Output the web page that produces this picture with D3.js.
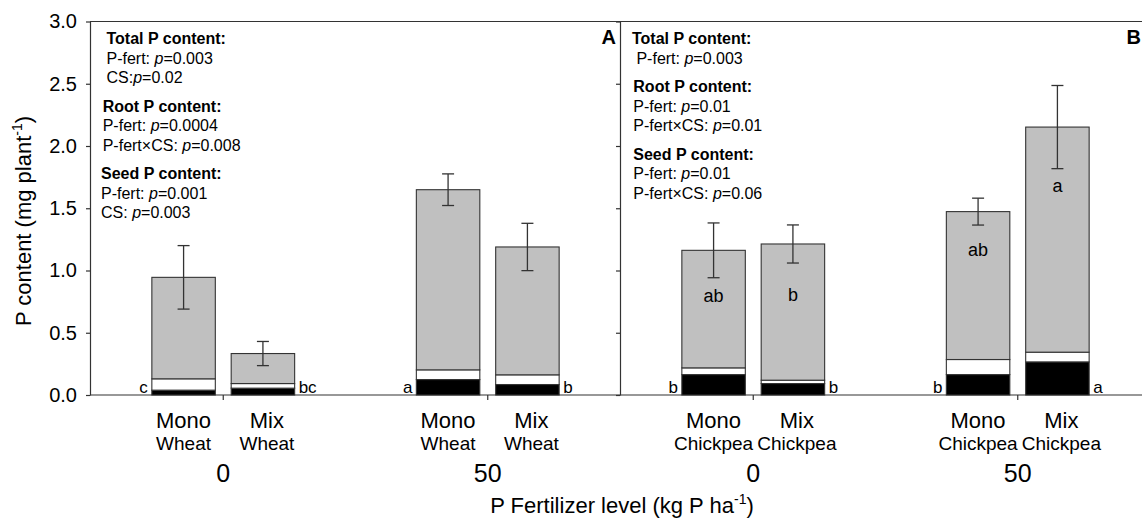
<!DOCTYPE html>
<html>
<head>
<meta charset="utf-8">
<script src="https://cdn.jsdelivr.net/npm/d3@7"></script>
<style>
  body { margin: 0; background: #fff; }
  svg { display: block; font-family: "Liberation Sans", Arial, Helvetica, sans-serif; }
</style>
</head>
<body>
<svg id="chart" width="1142" height="520"></svg>
<script>
// Treatments: panel (crop), P fertilizer level, cropping system
const panels = ["A", "B"];
const crops = ["Wheat", "Chickpea"];
const levels = ["0", "50"];
const systems = ["Mono", "Mix"];

// P content (mg plant-1), bars ordered A-0-Mono, A-0-Mix, A-50-Mono, A-50-Mix, B-0-Mono, B-0-Mix, B-50-Mono, B-50-Mix
const rootP  = [0.039, 0.055, 0.124, 0.084, 0.164, 0.092, 0.164, 0.266];
const seedP  = [0.091, 0.037, 0.078, 0.078, 0.054, 0.027, 0.121, 0.078];
const shootP = [0.815, 0.241, 1.447, 1.027, 0.944, 1.094, 1.188, 1.808];
const totalSE = [0.255, 0.097, 0.127, 0.190, 0.220, 0.153, 0.108, 0.334];

// Mean separation letters
const rootLetters  = ["c", "bc", "a", "b", "b", "b", "b", "a"];
const totalLetters = ["", "", "", "", "ab", "b", "ab", "a"];
const totalLetterAt = [null, null, null, null, 0.750, 0.758, 1.119, 1.628];

const yTicks = [0, 0.5, 1.0, 1.5, 2.0, 2.5, 3.0];

// ANOVA summaries per panel: [prefix, p value]
const statsA = [
  { title: "Total P content:", lines: [["P-fert: ", "0.003"], ["CS:", "0.02"]] },
  { title: "Root P content:",  lines: [["P-fert: ", "0.0004"], ["P-fert\u00d7CS: ", "0.008"]] },
  { title: "Seed P content:",  lines: [["P-fert: ", "0.001"], ["CS: ", "0.003"]] }
];
const statsB = [
  { title: "Total P content:", lines: [[" P-fert: ", "0.003"]] },
  { title: "Root P content:",  lines: [["P-fert: ", "0.01"], ["P-fert\u00d7CS: ", "0.01"]] },
  { title: "Seed P content:",  lines: [["P-fert: ", "0.01"], ["P-fert\u00d7CS: ", "0.06"]] }
];

const svg = d3.select("#chart");
const INK = "#333";

const y = d3.scaleLinear().domain([0, 3]).range([395, 21.5]);
const panelX = d3.scaleBand().domain(panels).range([90, 1150]);
const levelX = d3.scaleBand().domain(levels).range([1, panelX.bandwidth()]);
const sysX = d3.scaleBand().domain(systems).range([-71.4, 71.4]).paddingInner(0.2);

const rows = rootP.map((r, i) => ({
  i,
  panel: panels[Math.floor(i / 4)],
  crop: crops[Math.floor(i / 4)],
  level: levels[Math.floor(i / 2) % 2],
  sys: systems[i % 2],
  root: r, seed: seedP[i], shoot: shootP[i],
  total: r + seedP[i] + shootP[i],
  se: totalSE[i]
}));
rows.forEach(d => {
  d.x0 = panelX(d.panel) + levelX(d.level) + levelX.bandwidth() / 2 + sysX(d.sys);
  d.cx = d.x0 + sysX.bandwidth() / 2;
});

// Frame: top border and bottom line
const frame = svg.append("g").attr("stroke", INK).attr("stroke-width", 1.2).attr("fill", "none");
frame.append("line").attr("x1", panelX.range()[0]).attr("x2", panelX.range()[1])
  .attr("y1", y(3)).attr("y2", y(3));
frame.append("line").attr("x1", panelX.range()[0]).attr("x2", panelX.range()[1])
  .attr("y1", y(0)).attr("y2", y(0));

// Left y axis with labels
const yAxis = svg.append("g").attr("transform", `translate(${panelX("A")},0)`)
  .call(d3.axisLeft(y).tickValues(yTicks).tickSize(4).tickSizeOuter(0).tickPadding(9)
    .tickFormat(d3.format(".1f")));
yAxis.selectAll("path, line").attr("stroke", INK).attr("stroke-width", 1.2);
yAxis.selectAll("text").attr("font-size", 20).attr("fill", "#000").attr("font-family", null);

// Divider between panels, ticks only
const yAxis2 = svg.append("g").attr("transform", `translate(${panelX("B")},0)`)
  .call(d3.axisLeft(y).tickValues(yTicks).tickSize(4).tickSizeOuter(0).tickFormat(""));
yAxis2.selectAll("path, line").attr("stroke", INK).attr("stroke-width", 1.2);

// Bottom ticks at each fertilizer level, with level labels
panels.forEach(p => {
  const g = svg.append("g").attr("transform", `translate(${panelX(p)},${y(0)})`)
    .call(d3.axisBottom(levelX).tickSize(5).tickSizeOuter(0).tickPadding(64));
  g.select(".domain").remove();
  g.selectAll("line").attr("stroke", INK).attr("stroke-width", 1.2);
  g.selectAll("text").attr("font-size", 25).attr("fill", "#000").attr("font-family", null);
});

// Stacked bars: root (black), seed (white), shoot (grey)
const stack = d3.stack().keys(["root", "seed", "shoot"]);
const series = stack(rows);
const fills = { root: "#000", seed: "#fff", shoot: "#c0c0c0" };
svg.append("g").selectAll("g").data(series).join("g")
  .attr("fill", s => fills[s.key])
  .selectAll("rect").data(s => s).join("rect")
  .attr("x", d => d.data.x0)
  .attr("width", sysX.bandwidth())
  .attr("y", d => y(d[1]))
  .attr("height", d => y(d[0]) - y(d[1]))
  .attr("stroke", INK)
  .attr("stroke-width", 1.1);

// Error bars on total
const eb = svg.append("g").attr("stroke", INK).attr("stroke-width", 1.3);
rows.forEach(d => {
  eb.append("line").attr("x1", d.cx).attr("x2", d.cx)
    .attr("y1", y(d.total + d.se)).attr("y2", y(d.total - d.se));
  [d.total + d.se, d.total - d.se].forEach(v => {
    eb.append("line").attr("x1", d.cx - 6).attr("x2", d.cx + 6)
      .attr("y1", y(v)).attr("y2", y(v));
  });
});

// Root letters beside bar bases
svg.append("g").selectAll("text").data(rows).join("text")
  .attr("x", d => d.sys === "Mono" ? d.x0 - 4 : d.x0 + sysX.bandwidth() + 4)
  .attr("y", y(0) - 2)
  .attr("text-anchor", d => d.sys === "Mono" ? "end" : "start")
  .attr("font-size", 17)
  .text(d => rootLetters[d.i]);

// Total letters within bars
svg.append("g").selectAll("text").data(rows.filter(d => totalLetters[d.i])).join("text")
  .attr("x", d => d.cx)
  .attr("y", d => y(totalLetterAt[d.i]))
  .attr("text-anchor", "middle")
  .attr("font-size", 18)
  .text(d => totalLetters[d.i]);

// Category labels under bars (Mix labels nudged right so neighbours don't touch)
const labelShift = { Mono: 0, Mix: 4 };
const cat = svg.append("g").attr("text-anchor", "middle").attr("fill", "#000");
cat.selectAll("text.sys").data(rows).join("text").attr("class", "sys")
  .attr("x", d => d.cx + labelShift[d.sys]).attr("y", 427.5).attr("font-size", 22).text(d => d.sys);
cat.selectAll("text.crop").data(rows).join("text").attr("class", "crop")
  .attr("x", d => d.cx + labelShift[d.sys]).attr("y", 450).attr("font-size", 19).text(d => d.crop);

// Panel letters
svg.append("g").selectAll("text").data(panels).join("text")
  .attr("x", p => Math.min(panelX(p) + panelX.bandwidth() - 4, 1141))
  .attr("y", 43.5)
  .attr("text-anchor", "end")
  .attr("font-size", 20)
  .attr("font-weight", "bold")
  .text(p => p);

// ANOVA summaries
function drawStats(stats, panel, offsets) {
  const g = svg.append("g").attr("font-size", 16).attr("fill", "#000");
  let yy = 44;
  stats.forEach((b, bi) => {
    const x = panelX(panel) + offsets[bi];
    g.append("text").attr("x", x).attr("y", yy).attr("font-weight", "bold").text(b.title);
    b.lines.forEach(([pre, val]) => {
      yy += 19.5;
      const t = g.append("text").attr("x", x).attr("y", yy).style("white-space", "pre");
      t.append("tspan").text(pre);
      t.append("tspan").attr("font-style", "italic").text("p");
      t.append("tspan").text("=" + val);
    });
    yy += 28.5;
  });
}
drawStats(statsA, "A", [16.5, 12.7, 11]);
drawStats(statsB, "B", [12, 13.3, 13.3]);

// Axis titles
const yt = svg.append("text")
  .attr("transform", "translate(31,221) rotate(-90)")
  .attr("text-anchor", "middle").attr("font-size", 22);
yt.append("tspan").text("P content (mg plant");
yt.append("tspan").attr("font-size", 14).attr("dy", -9).text("-1");
yt.append("tspan").attr("dy", 9).text(")");

const xt = svg.append("text")
  .attr("x", 622).attr("y", 513)
  .attr("text-anchor", "middle").attr("font-size", 22);
xt.append("tspan").text("P Fertilizer level (kg P ha");
xt.append("tspan").attr("font-size", 14).attr("dy", -9).text("-1");
xt.append("tspan").attr("dy", 9).text(")");
</script>
</body>
</html>
